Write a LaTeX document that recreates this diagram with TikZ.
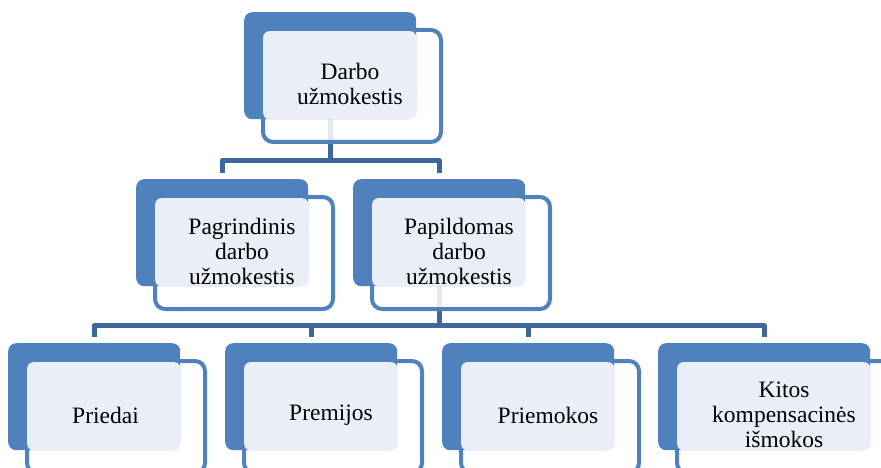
\documentclass[tikz,border=0pt]{standalone}
\usepackage{fontspec}
\setmainfont{Liberation Serif}
\definecolor{accent}{RGB}{79,129,189}
\definecolor{linkblue}{RGB}{62,103,158}
\definecolor{pane}{RGB}{234,239,247}
\pgfdeclarelayer{links}
\pgfsetlayers{links,main}
\tikzset{
  backbox/.style={fill=accent, rounded corners=8pt, minimum height=107pt, inner sep=0pt, anchor=north west},
  framebox/.style={draw=accent, line width=4pt, fill=white, fill opacity=0.86, rounded corners=10pt, minimum height=112pt, inner sep=0pt, anchor=north west},
  panebox/.style={fill=pane, rounded corners=6pt, minimum height=88pt, inner sep=0pt, anchor=north west},
  boxtext/.style={font=\fontsize{23.5}{25}\selectfont, align=center, inner sep=0pt, text=black},
  link/.style={draw=linkblue, line width=5pt, line join=round, shorten >=6pt},
}
% #1 name, #2 left, #3 top, #4 width, #5 text, #6 horizontal text shift
\newcommand{\orgitem}[6]{%
  \node[framebox, minimum width=#4+6] (#1-f) at (#2+17,#3+16) {};
  \node[backbox, minimum width=#4] (#1) at (#2,#3) {};
  \node[panebox, minimum width=#4-19] (#1-p) at (#2+19,#3+19) {};
  \node[boxtext] (#1-t) at (#2+#4/2+20+#6,#3+72) {#5};
}
\begin{document}
\begin{tikzpicture}[x=1pt,y=-1pt]
  \useasboundingbox (0,0) rectangle (881,468);
  \clip (0,0) rectangle (881,468);

  \orgitem{top}{244}{12}{172}{Darbo\\užmokestis}{0}
  \orgitem{pag}{136}{179}{172}{Pagrindinis\\darbo\\užmokestis}{0}
  \orgitem{pap}{353}{179}{172}{Papildomas\\darbo\\užmokestis}{0}
  \orgitem{pri}{8}{343}{172}{Priedai}{-8.5}
  \orgitem{prem}{225}{343}{172}{Premijos}{0}
  \orgitem{prie}{442}{343}{172}{Priemokos}{0}
  \orgitem{kit}{658}{343}{212}{Kitos\\kompensacinės\\išmokos}{0}

  \begin{pgfonlayer}{links}
    \draw[link] (top.south) -- ++(0,41) -| (pag.north);
    \draw[link] (top.south) -- ++(0,41) -| (pap.north);
    \draw[link] (pap.south) -- ++(0,39) -| (pri.north);
    \draw[link] (pap.south) -- ++(0,39) -| (prem.north);
    \draw[link] (pap.south) -- ++(0,39) -| (prie.north);
    \draw[link] (pap.south) -- ++(0,39) -| (kit.north);
  \end{pgfonlayer}
\end{tikzpicture}
\end{document}
